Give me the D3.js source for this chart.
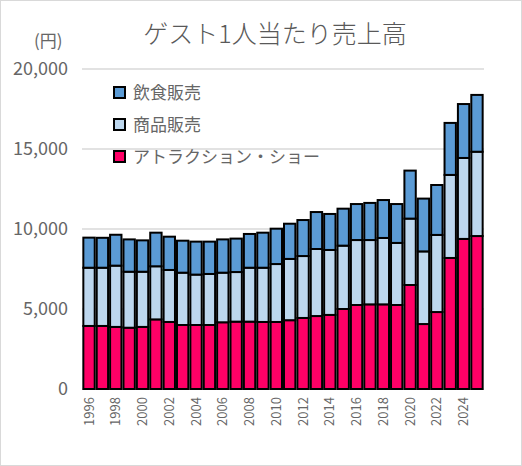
<!DOCTYPE html>
<html><head><meta charset="utf-8">
<script src="https://cdn.jsdelivr.net/npm/d3@7"></script>
<style>body{margin:0;background:#fff;font-family:"Noto Sans CJK JP","Noto Sans",sans-serif;}</style>
</head><body>
<svg width="522" height="466"></svg>
<script>
// 年
const years = d3.range(1996, 2026);
// 円
const attraction = [3940,3940,3880,3830,3880,4350,4190,4000,4000,4000,4170,4210,4210,4190,4190,4300,4440,4560,4630,5000,5250,5290,5290,5250,6500,4060,4810,8190,9380,9560];
const merch =      [3640,3640,3830,3500,3450,3320,3250,3270,3150,3190,3100,3100,3370,3390,3620,3830,3870,4190,4060,3960,4060,4020,4150,3880,4150,4540,4820,5190,5060,5270];
const food =       [1880,1870,1930,2020,1960,2100,2080,2000,2060,2020,2080,2090,2110,2190,2210,2200,2250,2310,2250,2310,2250,2320,2370,2430,3000,3300,3120,3250,3370,3550];
const yTicks = [0, 5000, 10000, 15000, 20000];
const seriesNames = ["アトラクション・ショー", "商品販売", "飲食販売"];
const colors = ["#FF0066", "#BDD7EE", "#5B9BD5"];

const svg = d3.select("svg");
svg.append("rect").attr("x", 0.5).attr("y", 0.5).attr("width", 521).attr("height", 465)
  .attr("fill", "#fff").attr("stroke", "#d9d9d9");

const margin = {top: 69, right: 38, bottom: 77, left: 82};
const width = 522 - margin.left - margin.right,
      height = 466 - margin.top - margin.bottom;
const g = svg.append("g").attr("transform", "translate(" + margin.left + "," + margin.top + ")");

let x = d3.scaleBand().domain(years).range([0, width]).paddingInner(0.15).paddingOuter(0.1);
let y = d3.scaleLinear().domain([0, 20000]).range([height, 0]);

g.selectAll(".grid").data(yTicks).enter().append("line")
  .attr("x1", 0).attr("x2", width)
  .attr("y1", d => y(d)).attr("y2", d => y(d))
  .attr("stroke", "#d9d9d9").attr("stroke-width", 1.5);

g.selectAll(".ylab").data(yTicks).enter().append("text")
  .attr("x", -14).attr("y", d => y(d)).attr("dy", "0.35em")
  .attr("text-anchor", "end").attr("fill", "#666").attr("font-size", 18)
  .text(d => d3.format(",")(d));

const rows = years.map((yr, i) => ({year: yr, a: attraction[i], m: merch[i], f: food[i]}));
const stack = d3.stack().keys(["a", "m", "f"])(rows);

stack.forEach((layer, k) => {
  g.selectAll(".bar" + k).data(layer).enter().append("rect")
    .attr("x", d => x(d.data.year))
    .attr("y", d => y(d[1]))
    .attr("width", x.bandwidth())
    .attr("height", d => y(d[0]) - y(d[1]))
    .attr("fill", colors[k]).attr("stroke", "#000").attr("stroke-width", 2);
});

g.selectAll(".xlab").data(years.filter(d => d % 2 === 0)).enter().append("text")
  .attr("transform", d => "translate(" + (x(d) + x.bandwidth() / 2) + "," + (height + 8) + ") rotate(-90)")
  .attr("text-anchor", "end").attr("dy", "0.35em")
  .attr("fill", "#666").attr("font-size", 13)
  .text(d => d);

svg.append("text").attr("x", 275).attr("y", 43).attr("text-anchor", "middle")
  .attr("fill", "#595959").attr("font-size", 25).attr("font-weight", 300).text("ゲスト1人当たり売上高");
svg.append("text").attr("x", 34).attr("y", 47)
  .attr("fill", "#666").attr("font-size", 17).text("(円)");

const legendOrder = [2, 1, 0];
legendOrder.forEach((k, i) => {
  const ly = 93 + i * 32;
  svg.append("rect").attr("x", 114).attr("y", ly - 6).attr("width", 11).attr("height", 11)
    .attr("fill", colors[k]).attr("stroke", "#000").attr("stroke-width", 2);
  svg.append("text").attr("x", 133).attr("y", ly).attr("dy", "0.35em")
    .attr("fill", "#666").attr("font-size", 17).text(seriesNames[k]);
});
</script>
</body></html>
